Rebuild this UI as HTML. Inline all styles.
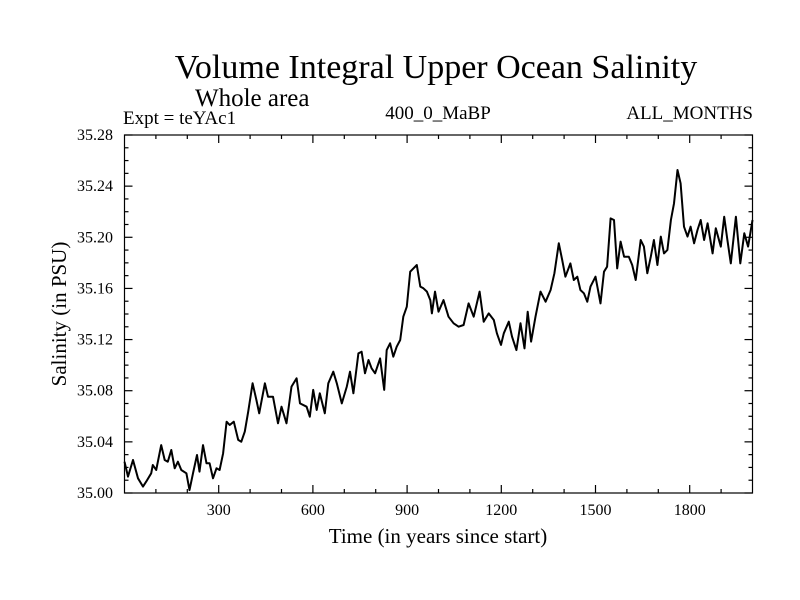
<!DOCTYPE html>
<html><head><meta charset="utf-8"><style>body{margin:0;background:#fff}svg{display:block}text{font-family:"Liberation Serif",serif;fill:#000}</style></head>
<body>
<svg id="chart" width="800" height="600" viewBox="0 0 800 600">
<rect width="800" height="600" fill="#fff"/>
<text x="436" y="78" font-size="34" text-anchor="middle">Volume Integral Upper Ocean Salinity</text>
<text x="195" y="106" font-size="25">Whole area</text>
<text x="123" y="124" font-size="19">Expt = teYAc1</text>
<text x="438" y="119" font-size="19" text-anchor="middle">400_0_MaBP</text>
<text x="753" y="119" font-size="19" text-anchor="end">ALL_MONTHS</text>
<text transform="translate(66,314) rotate(-90)" font-size="21" text-anchor="middle">Salinity (in PSU)</text>
<text x="438" y="543" font-size="21" text-anchor="middle">Time (in years since start)</text>
<g id="axes"></g>
<path id="series" fill="none" stroke="#000" stroke-width="2" stroke-linejoin="round"/>
<rect x="124.5" y="135" width="628" height="358" fill="none" stroke="#000" stroke-width="1.2"/>
</svg>
<script>
const years=[0,11,27,43,59,69,85,90,101,117,128,138,149,160,170,181,197,207,218,231,239,250,261,271,282,293,303,314,325,335,348,362,372,383,394,408,420,429,447,457,473,489,500,516,532,548,559,580,590,601,612,622,638,649,665,676,692,708,718,729,745,755,766,777,787,798,814,827,835,846,856,867,878,888,899,910,920,931,942,952,963,974,979,989,1000,1016,1032,1048,1064,1080,1096,1112,1131,1144,1160,1176,1186,1199,1208,1224,1234,1248,1261,1274,1284,1295,1309,1325,1341,1357,1369,1383,1394,1404,1420,1431,1442,1452,1463,1474,1484,1500,1516,1527,1537,1548,1559,1569,1580,1591,1606,1617,1628,1644,1654,1665,1676,1686,1697,1708,1718,1729,1740,1750,1761,1771,1782,1793,1803,1814,1825,1835,1846,1857,1873,1883,1899,1910,1920,1931,1947,1961,1974,1986,2000];
const salinity=[35.0245,35.0128,35.0258,35.0115,35.0050,35.0089,35.0154,35.0219,35.0180,35.0375,35.0258,35.0245,35.0336,35.0193,35.0245,35.0180,35.0154,35.0023,35.0154,35.0297,35.0167,35.0375,35.0232,35.0232,35.0115,35.0193,35.0180,35.0310,35.0558,35.0532,35.0558,35.0415,35.0401,35.0480,35.0636,35.0858,35.0727,35.0623,35.0858,35.0753,35.0753,35.0545,35.0675,35.0545,35.0832,35.0897,35.0701,35.0675,35.0597,35.0806,35.0649,35.0780,35.0623,35.0858,35.0949,35.0858,35.0701,35.0832,35.0949,35.0780,35.1092,35.1105,35.0936,35.1040,35.0975,35.0936,35.1053,35.0806,35.1118,35.1171,35.1066,35.1144,35.1197,35.1379,35.1457,35.1731,35.1757,35.1783,35.1614,35.1601,35.1575,35.1509,35.1405,35.1575,35.1418,35.1509,35.1379,35.1327,35.1301,35.1314,35.1483,35.1379,35.1575,35.1340,35.1405,35.1353,35.1249,35.1158,35.1249,35.1340,35.1223,35.1118,35.1327,35.1131,35.1418,35.1184,35.1379,35.1575,35.1496,35.1588,35.1718,35.1953,35.1822,35.1692,35.1796,35.1666,35.1692,35.1588,35.1562,35.1496,35.1614,35.1692,35.1483,35.1731,35.1770,35.2148,35.2135,35.1757,35.1966,35.1848,35.1848,35.1783,35.1666,35.1979,35.1927,35.1718,35.1848,35.1979,35.1783,35.2005,35.1874,35.1901,35.2135,35.2265,35.2526,35.2422,35.2083,35.2005,35.2083,35.1953,35.2057,35.2135,35.1979,35.2109,35.1874,35.2070,35.1927,35.2161,35.1979,35.1796,35.2161,35.1796,35.2031,35.1927,35.2135];
const yTicks=[35.00,35.04,35.08,35.12,35.16,35.20,35.24,35.28];
const yTickLabels=["35.00","35.04","35.08","35.12","35.16","35.20","35.24","35.28"];
const xTicks=[300,600,900,1200,1500,1800];
const xTickLabels=["300","600","900","1200","1500","1800"];
const L=124.5,R=752.5,T=135,B=493,X0=0,X1=2000,Y0=35.0,Y1=35.28;
const sx=v=>L+(v-X0)/(X1-X0)*(R-L);
const sy=v=>B-(v-Y0)/(Y1-Y0)*(B-T);
const NS='http://www.w3.org/2000/svg';
const g=document.getElementById('axes');
function ln(x1,y1,x2,y2,n){const e=document.createElementNS(NS,'line');
e.setAttribute('x1',x1);e.setAttribute('y1',y1);e.setAttribute('x2',x2);e.setAttribute('y2',y2);
e.setAttribute('stroke','#000');e.setAttribute('stroke-width','1.2');


g.appendChild(e);}
function tx(x,y,s,a,n){const e=document.createElementNS(NS,'text');
e.setAttribute('x',x);e.setAttribute('y',y);e.setAttribute('font-size','16');e.setAttribute('text-anchor',a);e.textContent=s;


g.appendChild(e);}
for(let v=0;v<=28;v++){const y=sy(Y0+v*0.01);const m=v%4===0;const len=m?8:4;
ln(L,y,L+len,y,'y-tick');ln(R,y,R-len,y,'y-tick-right');}
for(let yr=100;yr<2000;yr+=100){const x=sx(yr);const m=yr%300===0;const len=m?8:4;
ln(x,B,x,B-len,'x-tick');ln(x,T,x,T+len,'x-tick-top');}
yTicks.forEach((v,i)=>tx(113,sy(v)+5,yTickLabels[i],'end','y-tick-label'));
xTicks.forEach((v,i)=>tx(sx(v),B+22,xTickLabels[i],'middle','x-tick-label'));
let d='';years.forEach((yr,i)=>{d+=(i?'L':'M')+sx(yr).toFixed(1)+','+sy(salinity[i]).toFixed(1);});
document.getElementById('series').setAttribute('d',d);
</script>
</body></html>
